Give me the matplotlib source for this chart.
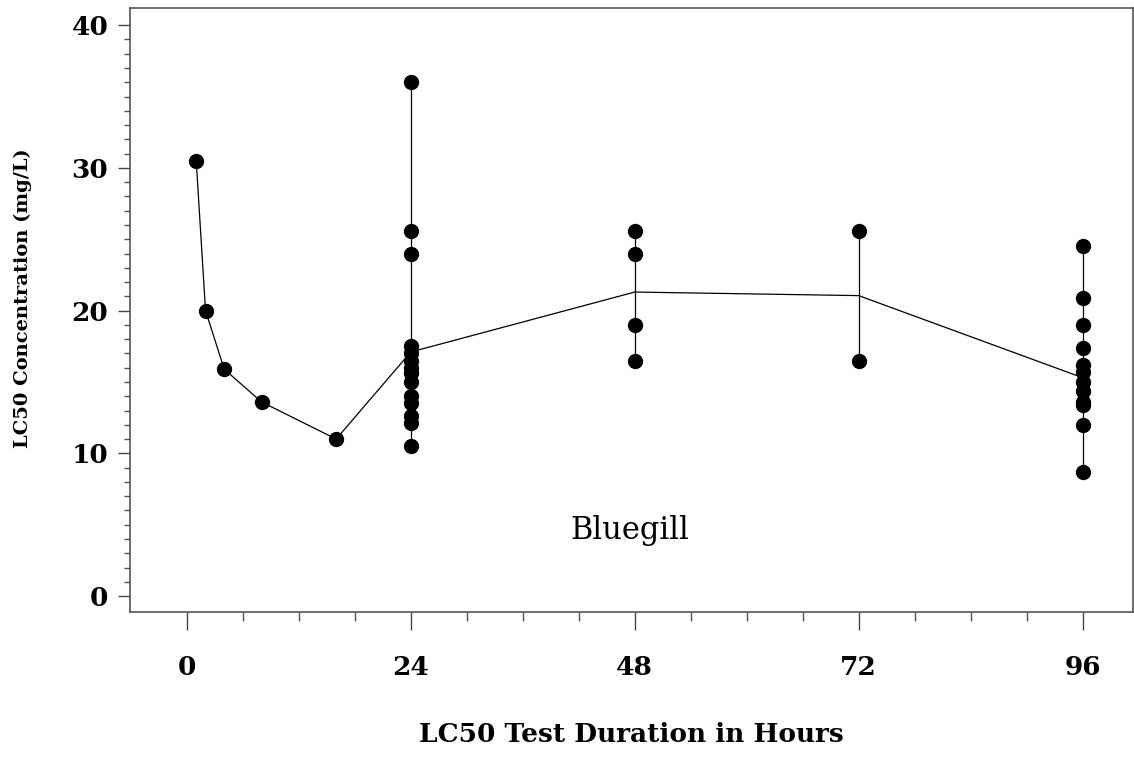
import matplotlib
matplotlib.use("Agg")
from matplotlib import pyplot as plt
from matplotlib.ticker import FixedLocator

# LC50 values (hours, mg/L)
early_hours = [1, 2, 4, 8, 16]
early_lc50 = [30.5, 20.0, 15.9, 13.6, 11.0]

lc50_24h = [36.0, 25.6, 24.0, 17.5, 17.0, 16.5, 16.0, 15.6, 15.0, 14.0, 13.5, 12.6, 12.1, 10.5]
lc50_48h = [25.6, 24.0, 19.0, 16.5]
lc50_72h = [25.6, 16.5]
lc50_96h = [24.5, 20.9, 19.0, 17.4, 16.2, 15.7, 15.0, 14.4, 13.6, 13.4, 12.0, 8.7]

# mean line as drawn
mean_hours = [1, 2, 4, 8, 16, 24, 48, 72, 96]
mean_lc50 = [30.5, 20.0, 15.9, 13.6, 11.0, 17.1, 21.3, 21.05, 15.3]

x_ticks = [0, 24, 48, 72, 96]
y_ticks = [0, 10, 20, 30, 40]

groups = {24: lc50_24h, 48: lc50_48h, 72: lc50_72h, 96: lc50_96h}

serif = "DejaVu Serif"

fig = plt.figure(figsize=(11.34, 7.57), dpi=100)
ax = fig.add_axes([0.1146, 0.1915, 0.8845, 0.7979])

ax.plot(mean_hours, mean_lc50, color="black", lw=0.9, zorder=2)

for h, vals in groups.items():
    ax.plot([h, h], [min(vals), max(vals)], color="black", lw=0.9, zorder=2)
    ax.plot([h] * len(vals), vals, "o", color="black", ms=10, zorder=3)

ax.plot(early_hours, early_lc50, "o", color="black", ms=10, zorder=3)

ax.text(47.5, 4.6, "Bluegill", fontsize=22, family=serif, ha="center", va="center")

ax.set_xlim(-6.1, 101.4)
ax.set_ylim(-1.12, 41.2)
ax.set_xticks(x_ticks)
ax.set_yticks(y_ticks)
ax.xaxis.set_minor_locator(FixedLocator([h for h in range(0, 97, 6) if h % 24]))
ax.yaxis.set_minor_locator(FixedLocator([v for v in range(0, 41) if v % 10]))

ax.tick_params(axis="x", which="major", direction="out", length=13, width=1, color="#444444", pad=18, labelsize=19)
ax.tick_params(axis="x", which="minor", direction="out", length=6.5, width=1, color="#555555")
ax.tick_params(axis="y", which="major", direction="out", length=8.5, width=1, color="#444444", pad=7, labelsize=19)
ax.tick_params(axis="y", which="minor", direction="out", length=4.3, width=1, color="#555555")
for lab in ax.get_xticklabels() + ax.get_yticklabels():
    lab.set_fontfamily(serif)
    lab.set_fontweight("bold")

for sp in ax.spines.values():
    sp.set_color("#555555")
    sp.set_linewidth(1.2)

ax.set_xlabel("LC50 Test Duration in Hours", fontsize=19, family=serif, fontweight="bold", labelpad=30)
ax.set_ylabel("LC50 Concentration (mg/L)", fontsize=14, family=serif, fontweight="bold", labelpad=28)
ax.yaxis.set_label_coords(-0.098, 0.52)

fig.savefig("out.png", dpi=100)
